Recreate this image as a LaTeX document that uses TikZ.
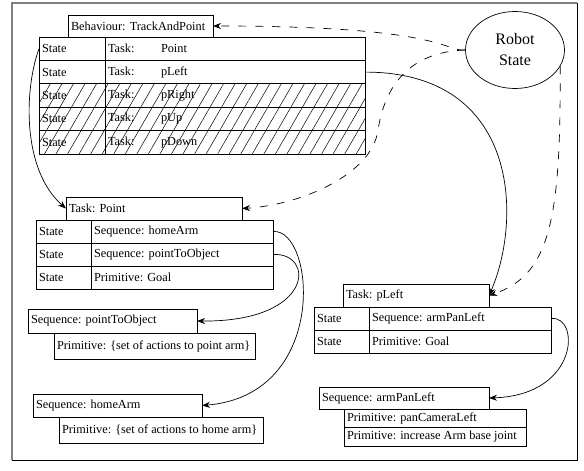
\documentclass[tikz,border=0pt]{standalone}
\usepackage{fontspec}
\setmainfont{Liberation Serif}
\usetikzlibrary{shapes.geometric, patterns.meta, arrows.meta}

\newcommand{\tasklbl}[1]{\makebox[53pt][l]{Task:}#1}

\begin{document}
\begin{tikzpicture}[x=1pt, y=-1pt, line width=0.7pt, >={Stealth[length=8pt,width=6pt]},
    box/.style={draw, anchor=north west, inner xsep=3pt, inner ysep=0pt, outer sep=0pt,
                align=flush left, font=\fontsize{12.3}{14.8}\selectfont},
    hatched/.style={pattern={Lines[angle=60,distance=10pt,line width=0.5pt]}},
    dashlink/.style={->, dash pattern=on 8pt off 9pt}]

    \useasboundingbox (0,0) rectangle (584,471);

    % Frame
    \draw[gray, line width=1.4pt] (12,460) -- (12,3) -- (577,3);
    \draw (577,3) -- (577,460) -- (12,460);

    % Behaviour table
    \node[box, minimum height=22pt, text width=139pt] at (68,15) (bhv) {Behaviour: TrackAndPoint};
    \node[box, minimum height=23.4pt, text width=60pt] at (39,37) (b1s) {State};
    \node[box, minimum height=23.4pt, text width=254pt] at (105,37) (b1t) {\tasklbl{Point}};
    \node[box, minimum height=23.4pt, text width=60pt] at (39,60.4) (b2s) {State};
    \node[box, minimum height=23.4pt, text width=254pt] at (105,60.4) (b2t) {\tasklbl{pLeft}};
    \node[box, hatched, minimum height=23.4pt, text width=60pt] at (39,83.8) (b3s) {State};
    \node[box, hatched, minimum height=23.4pt, text width=254pt] at (105,83.8) (b3t) {\tasklbl{pRight}};
    \node[box, hatched, minimum height=23.4pt, text width=60pt] at (39,107.2) (b4s) {State};
    \node[box, hatched, minimum height=23.4pt, text width=254pt] at (105,107.2) (b4t) {\tasklbl{pUp}};
    \node[box, hatched, minimum height=23.4pt, text width=60pt] at (39,130.6) (b5s) {State};
    \node[box, hatched, minimum height=23.4pt, text width=254pt] at (105,130.6) (b5t) {\tasklbl{pDown}};

    % Robot state
    \node[ellipse, draw, minimum width=99pt, minimum height=77pt, align=center,
          font=\fontsize{16}{21}\selectfont] at (515,50) (rs) {Robot\\State};

    % Task: Point
    \node[box, minimum height=23pt, text width=170pt] at (66,197) (tp) {Task: Point};
    \node[box, minimum height=23pt, text width=49pt] at (36,220) (tp1s) {State};
    \node[box, minimum height=23pt, text width=176pt] at (91,220) (tp1t) {Sequence: homeArm};
    \node[box, minimum height=23pt, text width=49pt] at (36,243) (tp2s) {State};
    \node[box, minimum height=23pt, text width=176pt] at (91,243) (tp2t) {Sequence: pointToObject};
    \node[box, minimum height=23pt, text width=49pt] at (36,266) (tp3s) {State};
    \node[box, minimum height=23pt, text width=176pt] at (91,266) (tp3t) {Primitive: Goal};

    % Sequences of Task: Point
    \node[box, minimum height=24pt, text width=163pt] at (28,309) (spo) {Sequence: pointToObject};
    \node[box, minimum height=26pt, text width=195pt] at (54,333) (spoprim) {Primitive: \{set of actions to point arm\}};
    \node[box, minimum height=23pt, text width=163pt] at (33,394) (sha) {Sequence: homeArm};
    \node[box, minimum height=26pt, text width=198pt] at (59,417) (shaprim) {Primitive: \{set of actions to home arm\}};

    % Task: pLeft
    \node[box, minimum height=23pt, text width=140pt] at (343,284) (tpl) {Task: pLeft};
    \node[box, minimum height=23pt, text width=49pt] at (314,307) (tpl1s) {State};
    \node[box, minimum height=23pt, text width=176pt] at (369,307) (tpl1t) {Sequence: armPanLeft};
    \node[box, minimum height=23pt, text width=49pt] at (314,330) (tpl2s) {State};
    \node[box, minimum height=23pt, text width=176pt] at (369,330) (tpl2t) {Primitive: Goal};

    % Sequence of Task: pLeft
    \node[box, minimum height=22pt, text width=164pt] at (319,387) (sapl) {Sequence: armPanLeft};
    \node[box, minimum height=18pt, text width=176pt] at (344,409) (sapl1) {Primitive: panCameraLeft};
    \node[box, minimum height=19pt, text width=176pt] at (344,427) (sapl2) {Primitive: increase Arm base joint};

    % State links
    \draw[->] (b1s.west) .. controls (24,90) and (22,170) .. (tp.west);
    \draw[->] (b2t.east) .. controls (520,72) and (522,220) .. (tpl.east);
    \draw[->] (tp1t.east) .. controls (315,228) and (330,395) .. (sha.east);
    \draw[->] (tp2t.east) .. controls (315,252) and (315,322) .. (spo.east);
    \draw[->] (tpl1t.east) .. controls (580,315) and (580,395) .. (sapl.east);

    % Robot state links
    \draw[dashlink] (rs.west) .. controls (445,52) and (445,26) .. (bhv.east);
    \draw[dashlink] (rs.west) .. controls (410,52) and (385,85) .. (378,130)
        .. controls (372,175) and (300,205) .. (tp.east);
    \draw[dashlink] (rs.-20) .. controls (561,220) and (550,275) .. (tpl.east);

\end{tikzpicture}
\end{document}
